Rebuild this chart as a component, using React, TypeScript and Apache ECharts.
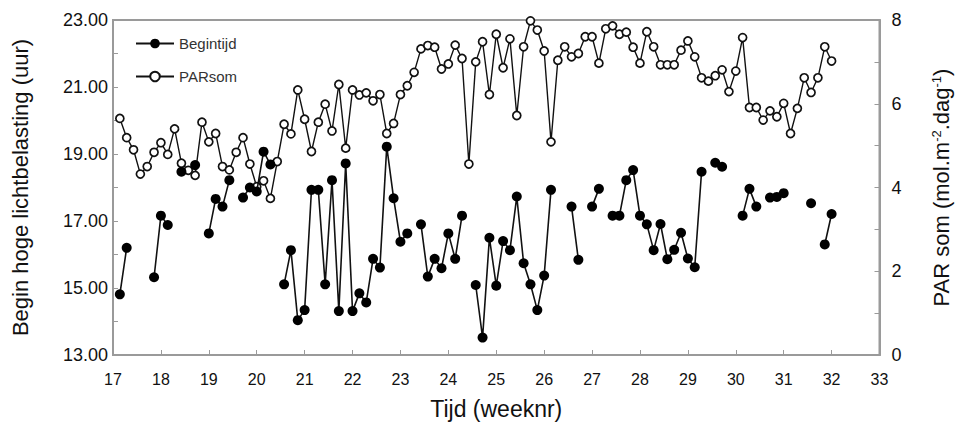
import React, { useEffect, useRef } from "react";
import * as echarts from "echarts";

// Day index within the measurement period (1 = first day after start of week 17)
const dayNumbers = [
  1, 2, 3, 4, 5, 6, 7, 8, 9, 10, 11, 12, 13, 14, 15, 16, 17, 18, 19, 20,
  21, 22, 23, 24, 25, 26, 27, 28, 29, 30, 31, 32, 33, 34, 35, 36, 37, 38, 39, 40,
  41, 42, 43, 44, 45, 46, 47, 48, 49, 50, 51, 52, 53, 54, 55, 56, 57, 58, 59, 60,
  61, 62, 63, 64, 65, 66, 67, 68, 69, 70, 71, 72, 73, 74, 75, 76, 77, 78, 79, 80,
  81, 82, 83, 84, 85, 86, 87, 88, 89, 90, 91, 92, 93, 94, 95, 96, 97, 98, 99, 100,
  101, 102, 103, 104, 105,
];
const startWeek = 17;

// Begin hoge lichtbelasting (uur) — null = no value (gap)
const begintijd: (number | null)[] = [
  14.81, 16.2, null, null, null, 15.32, 17.16, 16.88, null, 18.47,
  null, 18.67, null, 16.63, 17.66, 17.43, 18.22, null, 17.7, 18.0,
  17.88, 19.07, 18.69, null, 15.11, 16.13, 14.04, 14.34, 17.93, 17.93,
  15.11, 18.22, 14.31, 18.72, 14.31, 14.84, 14.57, 15.87, 15.61, 19.22,
  17.68, 16.38, 16.63, null, 16.9, 15.34, 15.87, 15.59, 16.63, 15.87,
  17.16, null, 15.09, 13.52, 16.5, 15.07, 16.4, 16.13, 17.73, 15.74,
  15.11, 14.34, 15.37, 17.93, null, null, 17.43, 15.84, null, 17.43,
  17.96, null, 17.16, 17.16, 18.22, 18.52, 17.16, 16.9, 16.13, 16.91,
  15.86, 16.14, 16.65, 15.88, 15.62, 18.47, null, 18.74, 18.62, null,
  null, 17.16, 17.96, 17.43, null, 17.7, 17.72, 17.83, null, null,
  null, 17.53, null, 16.3, 17.21,
];

// PAR som (mol.m-2.dag-1)
const parsom: number[] = [
  5.65, 5.19, 4.9, 4.32, 4.5, 4.84, 5.07, 4.79, 5.4, 4.58,
  4.41, 4.29, 5.56, 5.09, 5.29, 4.5, 4.42, 4.84, 5.19, 4.56,
  4.02, 4.16, 3.74, 4.62, 5.51, 5.28, 6.33, 5.63, 4.86, 5.56,
  5.99, 5.35, 6.46, 4.94, 6.33, 6.21, 6.26, 6.07, 6.22, 5.29,
  5.53, 6.22, 6.43, 6.75, 7.31, 7.39, 7.35, 6.83, 6.95, 7.4,
  7.08, 4.56, 7.0, 7.48, 6.22, 7.66, 6.86, 7.55, 5.72, 7.36,
  7.98, 7.76, 7.26, 5.09, 7.04, 7.36, 7.12, 7.2, 7.6, 7.6,
  6.97, 7.79, 7.86, 7.66, 7.71, 7.35, 6.97, 7.72, 7.36, 6.93,
  6.93, 6.93, 7.28, 7.5, 7.12, 6.62, 6.54, 6.67, 6.81, 6.29,
  6.78, 7.58, 5.91, 5.91, 5.61, 5.83, 5.69, 6.01, 5.29, 5.89,
  6.62, 6.27, 6.62, 7.36, 7.02,
];

const xTitle = "Tijd (weeknr)";
const leftTitle = "Begin hoge lichtbelasting (uur)";
const seriesNames = ["Begintijd", "PARsom"];

const FONT = "Liberation Sans, Arial, sans-serif";
const FRAME = "#9a9a9a";
const INK = "#111";

export default function App() {
  const ref = useRef<HTMLDivElement>(null);

  useEffect(() => {
    if (!ref.current) return;
    const chart = echarts.init(ref.current, undefined, { renderer: "svg" });
    const weekOf = (d: number) => startWeek + d / 7;
    const begData = dayNumbers.map((d, i) => [weekOf(d), begintijd[i]]);
    const parData = dayNumbers.map((d, i) => [weekOf(d), parsom[i]]);

    chart.setOption({
      animation: false,
      backgroundColor: "#fff",
      textStyle: { fontFamily: FONT },
      grid: {
        left: 113,
        right: 80,
        top: 20,
        bottom: 73,
        show: true,
        borderColor: FRAME,
        borderWidth: 2,
        backgroundColor: "transparent",
      },
      legend: {
        orient: "vertical",
        left: 130,
        top: 31,
        itemWidth: 38,
        itemHeight: 12,
        itemGap: 18,
        data: seriesNames,
        textStyle: { fontSize: 15, color: "#333", fontFamily: FONT },
      },
      xAxis: {
        type: "value",
        min: 17,
        max: 33,
        interval: 1,
        name: xTitle,
        nameLocation: "middle",
        nameGap: 42,
        nameTextStyle: { fontSize: 23, color: INK, fontFamily: FONT },
        axisLine: { show: true, lineStyle: { color: FRAME, width: 2 } },
        axisTick: { show: true, inside: true, length: 5, lineStyle: { color: FRAME, width: 1 } },
        axisLabel: { fontSize: 16, color: INK, margin: 16, fontFamily: FONT },
        splitLine: { show: false },
      },
      yAxis: [
        {
          type: "value",
          min: 13,
          max: 23,
          interval: 1,
          position: "left",
          name: leftTitle,
          nameLocation: "middle",
          nameRotate: 90,
          nameGap: 82,
          nameTextStyle: { fontSize: 22, color: INK, fontFamily: FONT },
          axisLine: { show: true, lineStyle: { color: FRAME, width: 2 } },
          axisTick: { show: true, inside: true, length: 5, lineStyle: { color: FRAME, width: 1 } },
          axisLabel: {
            fontSize: 18,
            color: INK,
            margin: 5,
            fontFamily: FONT,
            formatter: (v: number) => (Math.round(v) % 2 === 1 ? v.toFixed(2) : ""),
          },
          splitLine: { show: false },
        },
        {
          type: "value",
          min: 0,
          max: 8,
          interval: 1,
          position: "right",
          name: "{a|PAR som (mol.m}{s|-2}{a|.dag}{s|-1}{a|)}",
          nameLocation: "middle",
          nameRotate: 90,
          nameGap: 50,
          nameTextStyle: {
            fontFamily: FONT,
            rich: {
              a: { fontSize: 22, color: INK, fontFamily: FONT },
              s: { fontSize: 13, color: INK, fontFamily: FONT, verticalAlign: "top", padding: [0, 0, 10, 0] },
            },
          },
          axisLine: { show: true, lineStyle: { color: FRAME, width: 2 } },
          axisTick: { show: true, inside: true, length: 5, lineStyle: { color: FRAME, width: 1 } },
          axisLabel: {
            fontSize: 18,
            color: INK,
            margin: 12,
            fontFamily: FONT,
            formatter: (v: number) => (Math.round(v) % 2 === 0 ? String(v) : ""),
          },
          splitLine: { show: false },
        },
      ],
      series: [
        {
          name: "PARsom",
          type: "line",
          yAxisIndex: 1,
          data: parData,
          symbol: "circle",
          symbolSize: 8,
          showSymbol: true,
          lineStyle: { color: "#111", width: 1.4 },
          itemStyle: { color: "#fff", borderColor: "#111", borderWidth: 1.7 },
          z: 2,
        },
        {
          name: "Begintijd",
          type: "line",
          yAxisIndex: 0,
          data: begData,
          connectNulls: false,
          symbol: "circle",
          symbolSize: 10,
          showSymbol: true,
          lineStyle: { color: "#111", width: 1.6 },
          itemStyle: { color: "#000", borderColor: "#000", borderWidth: 0 },
          z: 3,
        },
      ],
    });

    return () => chart.dispose();
  }, []);

  return (
    <div
      ref={ref}
      style={{ position: "fixed", left: 0, top: 0, width: 960, height: 428, background: "#fff" }}
    />
  );
}
